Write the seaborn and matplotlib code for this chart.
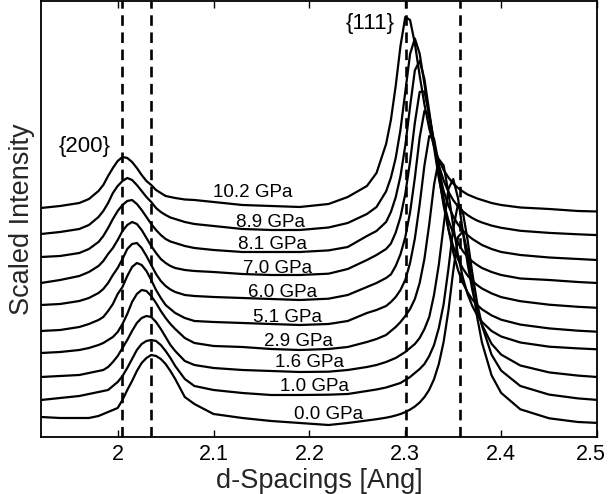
import matplotlib
matplotlib.use("Agg")
import matplotlib.pyplot as plt
import matplotlib.transforms as mtransforms
import pandas as pd
import seaborn as sns

# d-spacing grid shared by every pattern (Ang)
d_spacing = [1.92, 1.94, 1.96, 1.97, 1.98, 1.985, 1.99, 1.995, 2.0, 2.005,
             2.01, 2.015, 2.02, 2.025, 2.03, 2.035, 2.04, 2.045, 2.05, 2.055,
             2.06, 2.07, 2.08, 2.10, 2.13, 2.16, 2.19, 2.22, 2.24, 2.26,
             2.27, 2.28, 2.285, 2.29, 2.295, 2.30, 2.305, 2.31, 2.315, 2.32,
             2.325, 2.33, 2.335, 2.34, 2.345, 2.35, 2.355, 2.36, 2.365, 2.37,
             2.375, 2.38, 2.39, 2.40, 2.42, 2.45, 2.48, 2.50]

# scaled intensity, already stacked with offsets as in the figure
int_0_0 = [20, 19, 19, 19, 21, 23, 25, 27, 29, 37, 47, 56, 66, 74, 79, 82, 81, 78, 73, 66,
           58, 40, 33, 23, 19, 16, 14, 12, 14, 16.5,
           17.8, 19.3, 20.3, 21.5, 23, 24.9, 27.4, 30.5, 34.5, 39.9, 47.3, 57.8, 73, 95.1,
           126.4, 165.8, 200, 205.5, 184.2, 151.3, 119.7, 94.4, 61.7, 44.1, 27.7, 18.7, 15, 14.1]
int_1_0 = [37, 39, 41, 43, 45, 46, 47, 51, 55, 61, 69, 78, 87, 93, 96, 97, 96, 92, 86, 79,
           71, 58, 51, 47, 44, 42, 42, 42.3, 43, 46,
           47.5, 49.5, 51, 52.5, 54, 57, 60, 64, 68, 73, 81, 92, 109, 132.8,
           168.1, 208.1, 233, 225.3, 197, 163.5, 134, 111.4, 82.3, 66.4, 51, 42.4, 38.6, 37.1]
int_1_6 = [60, 61, 62, 64, 66, 67, 70, 75, 81, 89, 97, 106, 114, 119, 121, 120, 115, 108, 100, 92,
           86, 76, 72, 69, 67, 66, 65, 65.3, 67, 70,
           72, 75, 77, 79, 82, 85, 89, 93, 99, 108, 120, 142.2, 172.4, 211.1,
           248.1, 258, 239, 206, 173.3, 146.7, 126.7, 112.1, 93.2, 82.4, 71.5, 64.6, 61.4, 60]
int_2_9 = [84, 85, 87, 89, 92, 94, 97, 100, 105, 113, 123, 135, 143, 147, 146, 141, 134, 126, 119, 113,
           108, 99, 94, 91, 90, 88, 87, 88, 90, 95,
           98, 102, 106, 110, 115, 121, 128, 138, 154, 178.2, 212.8, 252.2, 277.8, 271.5,
           244.3, 211.1, 182, 159.5, 142.9, 130.8, 121.8, 115.1, 106, 100.5, 94.5, 90.3, 88.6, 87.7]
int_5_1 = [106, 107, 110, 113, 117, 120, 126, 133, 143, 150, 161, 170, 174, 172, 166, 157, 147, 139, 132, 128,
           124, 119, 116, 115, 114, 113, 112, 113, 116, 124,
           127, 131, 135, 140, 147, 157.1, 174, 198.5, 232.5, 271.7, 300.9, 298.2, 272.3, 238.6,
           208.2, 184.6, 167, 154.2, 144.6, 137.4, 132, 127.7, 121.6, 117.3, 112.4, 108.6, 106.3, 105.3]
int_6_0 = [132, 133, 136, 139, 144, 148, 154, 162, 169, 178, 188, 193, 194, 189, 181, 172, 163, 156, 151, 147.5,
           145, 142, 141, 140, 139, 138, 137, 138.3, 142, 150,
           154, 159, 162.6, 171, 182.7, 199.8, 224.7, 259.2, 299.3, 326.1, 322.1, 295.6, 261.7, 231.4,
           207.9, 190.6, 177.8, 168.5, 161.5, 156.1, 151.9, 148.5, 143.6, 139.9, 135.8, 132.3, 130.2, 129.2]
int_7_0 = [154, 157, 161, 165, 171, 176, 183, 189, 197, 206, 212, 215, 213, 207, 199, 191, 184, 178, 174, 171,
           169, 167, 166, 165, 163, 162, 162, 163.3, 168, 177,
           182, 188, 193.4, 204.4, 220.1, 243, 275.3, 314.3, 345.1, 345.4, 322.2, 289.4, 258.8, 234.6,
           216.7, 203.7, 194, 186, 180, 175.5, 172, 169, 165, 162, 158.5, 157, 155, 154]
int_8_1 = [180, 181, 184, 188, 195, 201, 209, 218, 226, 232, 236, 237, 233, 227, 220, 213, 207, 202, 198, 195.5,
           194, 191, 189, 187, 185, 185, 185, 186.6, 190, 201,
           206, 215, 225, 239.7, 260.9, 291.4, 330.4, 366.7, 376.1, 357.8, 325.3, 292.7, 266, 246.1,
           231.4, 220.6, 212.5, 206.4, 201.8, 198, 195, 192, 188, 185, 182, 179.5, 178, 177]
int_8_9 = [203, 205, 208, 212, 220, 226, 234, 244, 251, 256, 259, 257, 252, 246, 240, 235, 229, 225, 222, 219.5,
           218, 215, 213, 211, 208, 207, 207, 209.5, 214, 223,
           230, 245.6, 259.3, 278.9, 307.3, 345, 383, 398.5, 383.4, 352.9, 320, 292.5, 271.7, 256.5,
           245.2, 236.9, 230.5, 225.7, 221.9, 218.9, 216.4, 214.5, 211.4, 209.2, 206.2, 204.1, 202.7, 201.9]
int_10_2 = [229, 231, 234, 238, 246, 252, 261, 269, 276, 280, 279, 275, 269, 262, 256, 252, 247, 244, 241, 240,
            239, 237.5, 237, 235, 232, 231, 230, 233, 240, 251,
            264, 293, 317, 351, 391, 420, 417, 393.5, 361.5, 332.5, 308.5, 290.5, 277, 267,
            259.5, 253.5, 249, 245.5, 242.5, 240.5, 238.5, 237, 234, 232, 229.5, 228, 226, 225.5]

pressures = ["0.0 GPa", "1.0 GPa", "1.6 GPa", "2.9 GPa", "5.1 GPa",
             "6.0 GPa", "7.0 GPa", "8.1 GPa", "8.9 GPa", "10.2 GPa"]
patterns = [int_0_0, int_1_0, int_1_6, int_2_9, int_5_1,
            int_6_0, int_7_0, int_8_1, int_8_9, int_10_2]

# where the pressure labels sit (d, intensity at text baseline)
label_d = [2.2199, 2.2058, 2.1996, 2.1881, 2.1771, 2.1719, 2.1667, 2.1615, 2.1589, 2.1412]
label_y = [17.7, 46, 69.7, 91, 114.7, 139.7, 164.3, 187.7, 209.7, 240]

# peak positions of the 10.2 and 0.0 GPa patterns
peak_lines = [2.005, 2.035, 2.301, 2.357]

x_ticks = [2.0, 2.1, 2.2, 2.3, 2.4, 2.5]
x_tick_labels = ["2", "2.1", "2.2", "2.3", "2.4", "2.5"]

df = pd.concat(
    [pd.DataFrame({"d": d_spacing, "intensity": vals, "pressure": p})
     for p, vals in zip(pressures, patterns)],
    ignore_index=True,
)

sns.set_theme(style="ticks")
plt.rcParams["font.family"] = ["Liberation Sans", "DejaVu Sans"]

fig = plt.figure(figsize=(6.1, 4.94), dpi=100)
ax = fig.add_axes([0.0672, 0.1154, 0.9115, 0.8826])

for x in peak_lines:
    ax.axvline(x, color="black", lw=1.9, ls=(0, (4, 2.5)), zorder=1)

sns.lineplot(data=df, x="d", y="intensity", units="pressure", estimator=None,
             color="black", linewidth=1.6, ax=ax, zorder=2)

for p, xd, yv in zip(pressures, label_d, label_y):
    ax.text(xd, yv, p, ha="center", va="baseline", fontsize=13.5, color="black")

ax.text(1.966, 285, "{200}", ha="center", va="baseline", fontsize=16, color="black")
ax.text(2.263, 408, "{111}", ha="center", va="baseline", fontsize=16, color="black")

ax.set_xlim(1.92, 2.5)
ax.set_ylim(0, 436)
ax.set_xticks(x_ticks)
ax.set_xticklabels(x_tick_labels)
ax.set_yticks([])
ax.tick_params(axis="x", direction="in", top=True, length=5, width=1,
               labelsize=15.5, pad=5, colors="black")
for s in ax.spines.values():
    s.set_visible(True)
    s.set_linewidth(1.3)
    s.set_color("black")

# keep the last tick label inside the figure, as in the original
last = ax.get_xticklabels()[-1]
last.set_transform(last.get_transform() +
                   mtransforms.ScaledTranslation(-6 / 100, 0, fig.dpi_scale_trans))

ax.set_xlabel("d-Spacings [Ang]", fontsize=19.5, labelpad=2)
ax.set_ylabel("Scaled Intensity", fontsize=19.5, labelpad=4)

fig.savefig("out.png", dpi=100)
